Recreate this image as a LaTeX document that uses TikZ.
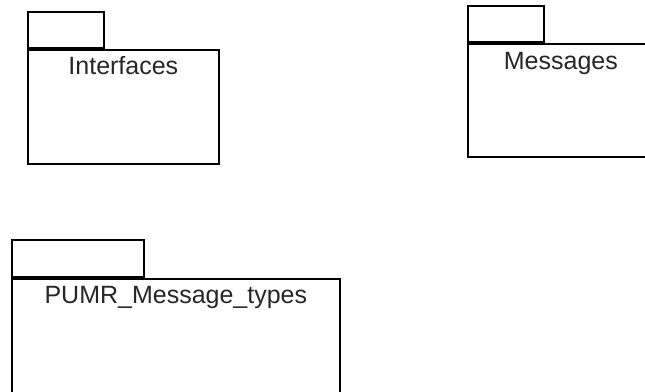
\documentclass[tikz,border=0pt]{standalone}
\usepackage{fontspec}
\setmainfont{Liberation Sans}
\usetikzlibrary{positioning}

\begin{document}
\begin{tikzpicture}[
    x=1pt, y=-1pt,
    pkgbody/.style={rectangle, draw, line width=1.7pt, anchor=north west, inner sep=0pt},
    pkgtab/.style={rectangle, draw, line width=1.7pt, anchor=south west, inner sep=0pt},
    pkglabel/.style={inner sep=0pt, text=black!85, font=\fontsize{25}{30}\selectfont}
]
    \clip (0,0) rectangle (645,391);
    \node[pkgbody, minimum width=191pt, minimum height=114pt] (ifbody) at (27,49) {};
    \node[pkgtab, minimum width=76pt, minimum height=36pt] (iftab) at (ifbody.north west) {};
    \node[pkglabel, below=7pt of ifbody.north] (iflabel) {Interfaces};

    \node[pkgbody, minimum width=186pt, minimum height=113pt] (msgbody) at (467,43) {};
    \node[pkgtab, minimum width=76pt, minimum height=36pt] (msgtab) at (msgbody.north west) {};
    \node[pkglabel, below=9pt of msgbody.north] (msglabel) {Messages};

    \node[pkgbody, minimum width=328pt, minimum height=130pt] (typesbody) at (11,278) {};
    \node[pkgtab, minimum width=132pt, minimum height=37pt] (typestab) at (typesbody.north west) {};
    \node[pkglabel, below=8pt of typesbody.north] (typeslabel) {PUMR\_Message\_types};
\end{tikzpicture}
\end{document}
